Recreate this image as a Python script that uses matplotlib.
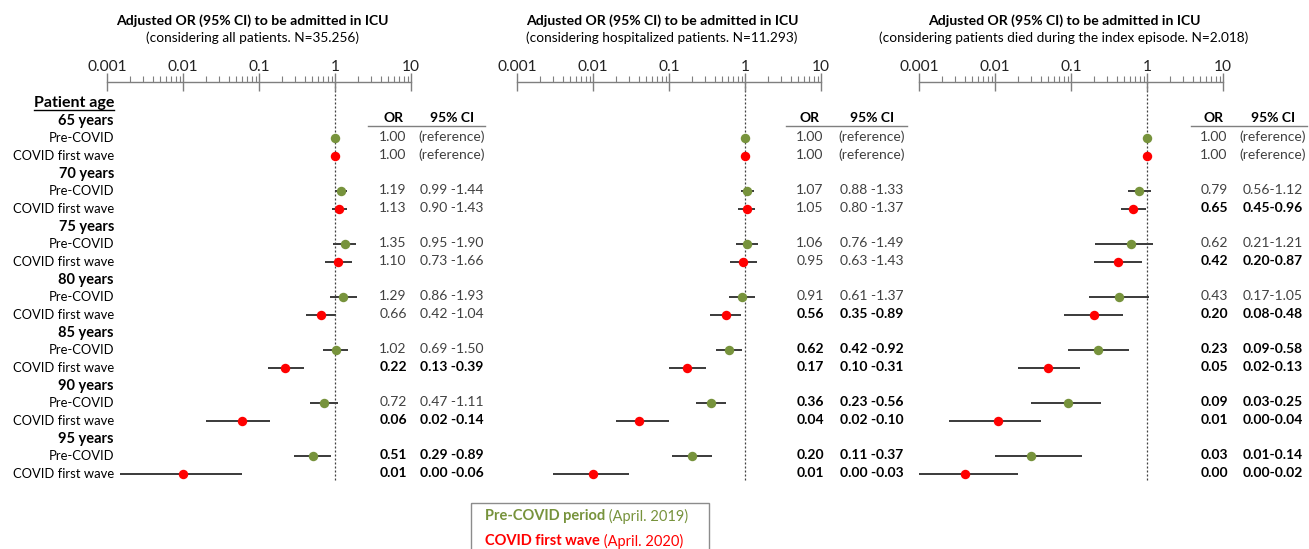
import numpy as np
import matplotlib
matplotlib.use("Agg")
import matplotlib.pyplot as plt
from matplotlib.patches import Rectangle

plt.rcParams['font.family'] = ['Lato', 'DejaVu Sans']

# ---------------- data ----------------
age_groups = ["65 years", "70 years", "75 years", "80 years", "85 years", "90 years", "95 years"]
periods = ["Pre-COVID", "COVID first wave"]

titles = ["Adjusted OR (95% CI) to be admitted in ICU"] * 3
subtitles = ["(considering all patients. N=35.256)",
             "(considering hospitalized patients. N=11.293)",
             "(considering patients died during the index episode. N=2.018)"]
tick_vals = [0.001, 0.01, 0.1, 1, 10]
tick_labels = ["0.001", "0.01", "0.1", "1", "10"]

# Panel 1: all patients   (order: 65 pre, 65 covid, 70 pre, 70 covid, ...)
p1_or = [1.00, 1.00, 1.19, 1.13, 1.35, 1.10, 1.29, 0.66, 1.02, 0.22, 0.72, 0.06, 0.51, 0.01]
p1_lo = [None, None, 0.99, 0.90, 0.95, 0.73, 0.86, 0.42, 0.69, 0.13, 0.47, 0.02, 0.29, 0.0015]
p1_hi = [None, None, 1.44, 1.43, 1.90, 1.66, 1.93, 1.04, 1.50, 0.39, 1.11, 0.14, 0.89, 0.06]

# Panel 2: hospitalized patients
p2_or = [1.00, 1.00, 1.07, 1.05, 1.06, 0.95, 0.91, 0.56, 0.62, 0.17, 0.36, 0.04, 0.20, 0.01]
p2_lo = [None, None, 0.88, 0.80, 0.76, 0.63, 0.61, 0.35, 0.42, 0.10, 0.23, 0.02, 0.11, 0.003]
p2_hi = [None, None, 1.33, 1.37, 1.49, 1.43, 1.37, 0.89, 0.92, 0.31, 0.56, 0.10, 0.37, 0.03]

# Panel 3: patients who died during the index episode
p3_or = [1.00, 1.00, 0.79, 0.65, 0.62, 0.42, 0.43, 0.20, 0.23, 0.05, 0.09, 0.011, 0.03, 0.004]
p3_lo = [None, None, 0.56, 0.45, 0.21, 0.20, 0.17, 0.08, 0.09, 0.02, 0.03, 0.0025, 0.01, 0.001]
p3_hi = [None, None, 1.12, 0.96, 1.21, 0.87, 1.05, 0.48, 0.58, 0.13, 0.25, 0.04, 0.14, 0.02]

panels = [(p1_or, p1_lo, p1_hi), (p2_or, p2_lo, p2_hi), (p3_or, p3_lo, p3_hi)]

legend_bold = ["Pre-COVID period", "COVID first wave"]
legend_norm = [" (April. 2019)", " (April. 2020)"]

# ---------------- styling / layout ----------------
GREEN = "#77933C"
RED = "#FF0000"
GREY_TXT = "#404040"
W, H = 1309, 549
fig = plt.figure(figsize=(W / 100, H / 100), dpi=100)

ROW0, ROWH = 103.0, 17.67      # pixel y of row 0 and row height
def row_y(r):
    return ROW0 + ROWH * r

AX_TOP, AX_BOT = 82, 490
panel_left = [107, 517, 919]
panel_w = 304
or_x = [393, 810, 1214]
ci_x = [452, 872, 1273]
hdr_line = [(368, 485), (786, 907), (1191, 1307)]
ci_sep = [" -", " -", "-"]

# overlay axes in pixel coordinates for text
ax0 = fig.add_axes([0, 0, 1, 1])
ax0.set_xlim(0, W)
ax0.set_ylim(H, 0)
ax0.axis("off")

r_top = (AX_TOP - ROW0) / ROWH
r_bot = (AX_BOT - ROW0) / ROWH
r_dash_end = (482 - ROW0) / ROWH

FS_LAB = 9.4
FS_HEAD = 10.5
FS_NUM = 10.0

for k, (orv, lov, hiv) in enumerate(panels):
    L = panel_left[k]
    ax = fig.add_axes([L / W, 1 - AX_BOT / H, panel_w / W, (AX_BOT - AX_TOP) / H])
    ax.set_xscale("log")
    ax.set_xlim(0.001, 10)
    ax.set_ylim(r_bot, r_top)
    for s in ["left", "right", "bottom"]:
        ax.spines[s].set_visible(False)
    ax.spines["top"].set_color("#7f7f7f")
    ax.spines["top"].set_linewidth(1.0)
    ax.patch.set_alpha(0)
    ax.set_yticks([])
    ax.xaxis.set_ticks_position("top")
    ax.set_xticks(tick_vals)
    ax.set_xticklabels(tick_labels, fontsize=11.2, color="#222222")
    ax.tick_params(axis="x", which="major", direction="inout", length=13, width=1,
                   color="#7f7f7f", pad=-1)
    ax.tick_params(axis="x", which="minor", direction="out", length=4, width=0.8,
                   color="#7f7f7f")
    ax.set_xticks([m * 10.0 ** e for e in range(-3, 1) for m in range(2, 10)], minor=True)
    ax.xaxis.set_minor_formatter(matplotlib.ticker.NullFormatter())

    ax.plot([1, 1], [r_top, r_dash_end], color="#404040", lw=0.9,
            linestyle=(0, (1.6, 1.6)), zorder=1)

    for i in range(len(orv)):
        g, p = divmod(i, 2)
        r = 2 + 3 * g + p
        col = GREEN if p == 0 else RED
        if lov[i] is not None:
            ax.plot([lov[i], hiv[i]], [r, r], color="#3a3a3a", lw=1.4, zorder=2,
                    solid_capstyle="butt")
        ax.plot([orv[i]], [r], "o", color=col, markersize=6.8, markeredgewidth=0, zorder=3)

        # table text
        yy = row_y(r) - 1.5
        if lov[i] is None:
            bold = False
            ci_txt = "(reference)"
        else:
            bold = hiv[i] < 1
            ci_txt = f"{lov[i]:.2f}{ci_sep[k]}{hiv[i]:.2f}"
        fw = "bold" if bold else "normal"
        c = "black" if bold else GREY_TXT
        ax0.text(or_x[k], yy, f"{orv[i]:.2f}", ha="center", va="center",
                 fontsize=FS_NUM, fontweight=fw, color=c)
        ax0.text(ci_x[k], yy, ci_txt, ha="center", va="center",
                 fontsize=FS_NUM, fontweight=fw, color=c)

    # titles
    cx = L + panel_w / 2 - 7
    ax0.text(cx, 21, titles[k], ha="center", va="center", fontsize=10.1,
             fontweight="bold", color="black")
    ax0.text(cx, 38, subtitles[k], ha="center", va="center", fontsize=9.8,
             color="black")

    # table header
    ax0.text(or_x[k], row_y(0.85), "OR", ha="center", va="center", fontsize=FS_NUM,
             fontweight="bold", color="black")
    ax0.text(ci_x[k], row_y(0.85), "95% CI", ha="center", va="center", fontsize=FS_NUM,
             fontweight="bold", color="black")
    ax0.plot(hdr_line[k], [126, 126], color="#7f7f7f", lw=1)

# row labels
LAB_X = 114
t = ax0.text(LAB_X, row_y(0), "Patient age", ha="right", va="center", fontsize=11.5,
             fontweight="bold", color="black")
renderer = fig.canvas.get_renderer()
bb = t.get_window_extent(renderer=renderer)
ax0.plot([bb.x0, bb.x1], [row_y(0) + 7, row_y(0) + 7], color="black", lw=1)
for g, name in enumerate(age_groups):
    ax0.text(LAB_X, row_y(1 + 3 * g), name, ha="right", va="center", fontsize=FS_HEAD,
             fontweight="bold", color="black")
    for p, per in enumerate(periods):
        ax0.text(LAB_X, row_y(2 + 3 * g + p), per, ha="right", va="center",
                 fontsize=FS_LAB, color="black")

# legend box
ax0.add_patch(Rectangle((471, 503), 709 - 471, 60, fill=False, edgecolor="#8c8c8c", lw=1))
for j, (b, n) in enumerate(zip(legend_bold, legend_norm)):
    col = GREEN if j == 0 else RED
    y = 516 + 25 * j
    tb = ax0.text(485, y, b, ha="left", va="center", fontsize=10.5, fontweight="bold", color=col)
    bbb = tb.get_window_extent(renderer=renderer)
    ax0.text(bbb.x1, y, n, ha="left", va="center", fontsize=10.5, color=col)

fig.savefig("out.png", dpi=100)
